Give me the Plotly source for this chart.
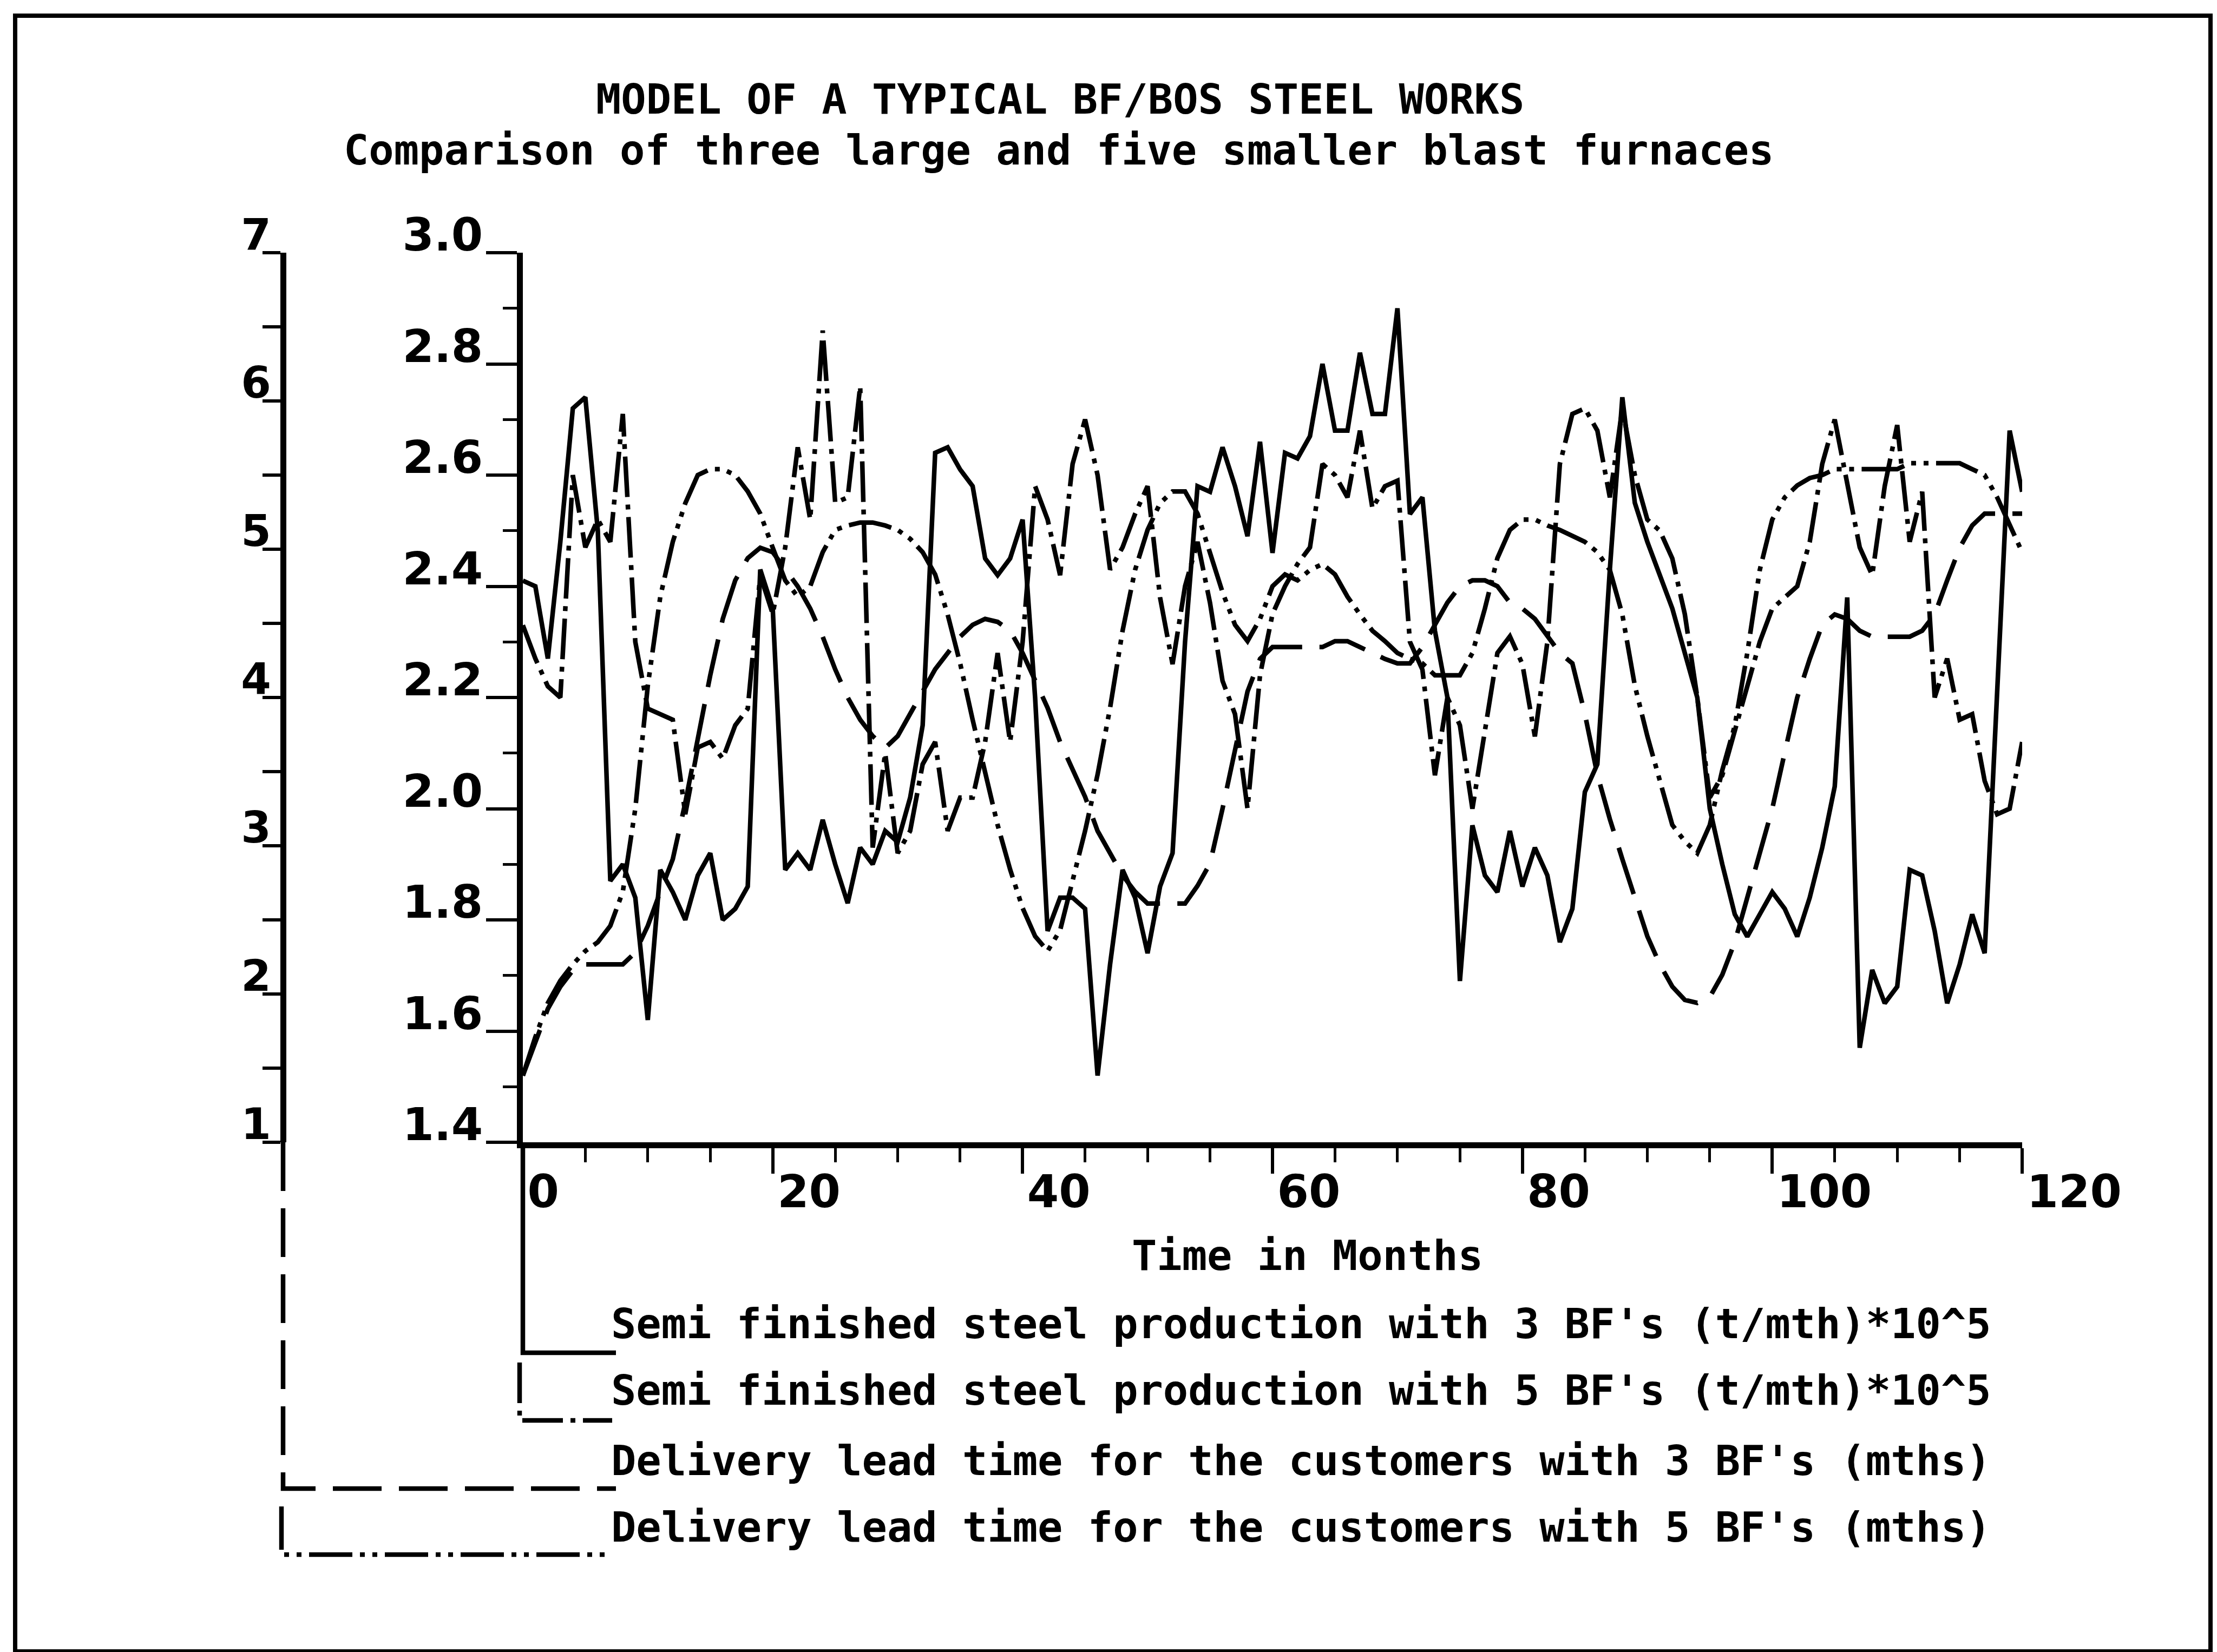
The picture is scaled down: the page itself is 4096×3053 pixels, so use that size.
import plotly.graph_objects as go

# ---------------- data ----------------
months = list(range(121))

# Semi finished steel production (t/mth)*10^5  -> right scale 1.4 .. 3.0
semi_3bf = [
    2.41, 2.40, 2.27, 2.48, 2.72, 2.74, 2.50, 1.87, 1.90, 1.84,
    1.62, 1.89, 1.85, 1.80, 1.88, 1.92, 1.80, 1.82, 1.86, 2.43,
    2.36, 1.89, 1.92, 1.89, 1.98, 1.90, 1.83, 1.93, 1.90, 1.96,
    1.94, 2.02, 2.15, 2.64, 2.65, 2.61, 2.58, 2.45, 2.42, 2.45,
    2.52, 2.20, 1.78, 1.84, 1.84, 1.82, 1.52, 1.72, 1.89, 1.84,
    1.74, 1.86, 1.92, 2.30, 2.58, 2.57, 2.65, 2.58, 2.49, 2.66,
    2.46, 2.64, 2.63, 2.67, 2.80, 2.68, 2.68, 2.82, 2.71, 2.71,
    2.90, 2.53, 2.56, 2.32, 2.20, 1.69, 1.97, 1.88, 1.85, 1.96,
    1.86, 1.93, 1.88, 1.76, 1.82, 2.03, 2.08, 2.43, 2.74, 2.55,
    2.48, 2.42, 2.36, 2.28, 2.20, 2.00, 1.90, 1.81, 1.77, 1.81,
    1.85, 1.82, 1.77, 1.84, 1.93, 2.04, 2.38, 1.57, 1.71, 1.65,
    1.68, 1.89, 1.88, 1.78, 1.65, 1.72, 1.81, 1.74, 2.20, 2.68,
    2.57]

semi_5bf = [
    2.33, 2.27, 2.22, 2.20, 2.60, 2.47, 2.52, 2.48, 2.71, 2.30,
    2.18, 2.17, 2.16, 1.99, 2.11, 2.12, 2.09, 2.15, 2.18, 2.42,
    2.35, 2.47, 2.65, 2.52, 2.86, 2.55, 2.56, 2.76, 1.93, 2.10,
    1.92, 1.96, 2.08, 2.12, 1.96, 2.02, 2.02, 2.12, 2.28, 2.12,
    2.30, 2.58, 2.52, 2.42, 2.62, 2.70, 2.60, 2.43, 2.47, 2.53,
    2.58, 2.38, 2.26, 2.40, 2.48, 2.37, 2.23, 2.17, 2.00, 2.24,
    2.35, 2.40, 2.44, 2.47, 2.62, 2.60, 2.56, 2.68, 2.54, 2.58,
    2.59, 2.30, 2.25, 2.06, 2.20, 2.15, 2.00, 2.14, 2.28, 2.31,
    2.26, 2.13, 2.30, 2.62, 2.71, 2.72, 2.68, 2.56, 2.72, 2.60,
    2.52, 2.50, 2.45, 2.35, 2.20, 2.02, 2.06, 2.14, 2.22, 2.30,
    2.36, 2.38, 2.40, 2.48, 2.62, 2.70, 2.58, 2.47, 2.42, 2.58,
    2.69, 2.48, 2.57, 2.20, 2.27, 2.16, 2.17, 2.05, 1.99, 2.00,
    2.12]

# Delivery lead time for the customers (mths) -> left scale 1 .. 7
lead_3bf = [
    1.45, 1.68, 1.90, 2.05, 2.16, 2.20, 2.20, 2.20, 2.20, 2.28,
    2.46, 2.69, 2.91, 3.29, 3.74, 4.15, 4.53, 4.79, 4.94, 5.01,
    4.98, 4.86, 4.75, 4.60, 4.41, 4.19, 4.00, 3.85, 3.74, 3.66,
    3.74, 3.89, 4.04, 4.19, 4.30, 4.41, 4.49, 4.53, 4.51, 4.45,
    4.30, 4.11, 3.93, 3.70, 3.51, 3.33, 3.10, 2.95, 2.80, 2.69,
    2.61, 2.61, 2.61, 2.61, 2.73, 2.88, 3.25, 3.63, 4.04, 4.26,
    4.34, 4.34, 4.34, 4.34, 4.34, 4.38, 4.38, 4.34, 4.30, 4.26,
    4.23, 4.23, 4.34, 4.49, 4.64, 4.75, 4.79, 4.79, 4.75, 4.64,
    4.60, 4.53, 4.41, 4.30, 4.23, 3.89, 3.48, 3.18, 2.91, 2.65,
    2.39, 2.20, 2.05, 1.96, 1.94, 1.98, 2.13, 2.35, 2.65, 2.95,
    3.25, 3.63, 4.00, 4.26, 4.49, 4.56, 4.53, 4.45, 4.41, 4.41,
    4.41, 4.41, 4.45, 4.56, 4.79, 5.01, 5.16, 5.24, 5.24, 5.24,
    5.24]

lead_5bf = [
    1.45, 1.71, 1.94, 2.09, 2.20, 2.29, 2.35, 2.46, 2.69, 3.25,
    4.08, 4.68, 5.05, 5.31, 5.50, 5.54, 5.54, 5.50, 5.39, 5.24,
    5.01, 4.79, 4.68, 4.75, 4.98, 5.13, 5.16, 5.18, 5.18, 5.16,
    5.13, 5.07, 4.98, 4.83, 4.56, 4.23, 3.85, 3.48, 3.14, 2.84,
    2.58, 2.39, 2.29, 2.43, 2.76, 3.10, 3.48, 3.93, 4.45, 4.86,
    5.13, 5.31, 5.39, 5.39, 5.24, 4.98, 4.71, 4.49, 4.38, 4.53,
    4.75, 4.83, 4.79, 4.86, 4.90, 4.83, 4.68, 4.56, 4.45, 4.38,
    4.30, 4.26, 4.23, 4.15, 4.15, 4.15, 4.30, 4.60, 4.94, 5.13,
    5.20, 5.20, 5.16, 5.13, 5.09, 5.05, 4.98, 4.86, 4.56, 4.08,
    3.74, 3.44, 3.14, 3.03, 2.95, 3.14, 3.51, 3.81, 4.30, 4.86,
    5.20, 5.35, 5.43, 5.48, 5.50, 5.54, 5.54, 5.54, 5.54, 5.54,
    5.54, 5.58, 5.58, 5.58, 5.58, 5.58, 5.54, 5.50, 5.35, 5.16,
    4.98]

title_1 = "MODEL OF A TYPICAL BF/BOS STEEL WORKS"
title_2 = "Comparison of three large and five smaller blast furnaces"
x_title = "Time in Months"
legend_labels = [
    "Semi finished steel production with 3 BF's (t/mth)*10^5",
    "Semi finished steel production with 5 BF's (t/mth)*10^5",
    "Delivery lead time for the customers with 3 BF's (mths)",
    "Delivery lead time for the customers with 5 BF's (mths)",
]

# ---------------- geometry (pixels in the 4096x3053 page) ----------------
W, H = 4096, 3053
ML, MR, MT, MB = 400, 368, 459, 950
PW, PH = W - ML - MR, H - MT - MB


def px(x):
    return (x - ML) / PW


def py(y):
    return (H - MB - y) / PH


X_AXIS0 = 958      # pixel of month 0 / right value axis
LEFT_AX = 515      # pixel of the lead-time axis
PLOT_BOTTOM = H - MB

SOLID = "solid"
DASH_S5 = "75px,14px,9px,14px"
DASH_L3 = "90px,32px"
DASH_L5 = "80px,14px,9px,14px,9px,14px"
LW = 8.5

MONO = dict(family="DejaVu Sans Mono", size=77, color="black", weight="bold")
NUM = dict(family="DejaVu Sans", size=84, color="black", weight="bold")

fig = go.Figure()
fig.add_trace(go.Scatter(x=months, y=semi_3bf, mode="lines", name=legend_labels[0],
                         line=dict(color="black", width=LW, dash=SOLID), yaxis="y"))
fig.add_trace(go.Scatter(x=months, y=semi_5bf, mode="lines", name=legend_labels[1],
                         line=dict(color="black", width=LW, dash=DASH_S5), yaxis="y"))
fig.add_trace(go.Scatter(x=months, y=lead_3bf, mode="lines", name=legend_labels[2],
                         line=dict(color="black", width=LW, dash=DASH_L3), yaxis="y2"))
fig.add_trace(go.Scatter(x=months, y=lead_5bf, mode="lines", name=legend_labels[3],
                         line=dict(color="black", width=LW, dash=DASH_L5), yaxis="y2"))

shapes = []
# outer frame
shapes.append(dict(type="rect", xref="paper", yref="paper",
                   x0=px(20), x1=px(4076), y0=py(3044), y1=py(21),
                   line=dict(color="black", width=8)))


def bracket(xv, y_top, y_bot, x_end, dash):
    path = f"M {px(xv)},{py(y_top)} L {px(xv)},{py(y_bot)} L {px(x_end)},{py(y_bot)}"
    return dict(type="path", xref="paper", yref="paper", path=path,
                line=dict(color="black", width=LW, dash=dash))


shapes.append(bracket(X_AXIS0, PLOT_BOTTOM, 2492, 1130, SOLID))
shapes.append(bracket(952, 2510, 2617, 1123, DASH_S5))
shapes.append(bracket(LEFT_AX, PLOT_BOTTOM, 2743, 1130, DASH_L3))
shapes.append(bracket(512, 2776, 2865, 1123, DASH_L5))

annotations = [
    dict(text=title_1, x=px(1950), y=py(175), xref="paper", yref="paper",
         showarrow=False, xanchor="center", yanchor="middle", font=MONO),
    dict(text=title_2, x=px(1948), y=py(269), xref="paper", yref="paper",
         showarrow=False, xanchor="center", yanchor="middle", font=MONO),
    dict(text=x_title, x=px(2407), y=py(2312), xref="paper", yref="paper",
         showarrow=False, xanchor="center", yanchor="middle", font=MONO),
]
for lbl, yc in zip(legend_labels, [2438, 2561, 2691, 2814]):
    annotations.append(dict(text=lbl, x=px(1119), y=py(yc), xref="paper", yref="paper",
                            showarrow=False, xanchor="left", yanchor="middle", font=MONO))

left_vals = [1 + 0.5 * i for i in range(13)]
left_text = [str(int(v)) if v == int(v) else "" for v in left_vals]

fig.update_layout(
    width=W, height=H,
    margin=dict(l=ML, r=MR, t=MT, b=MB, pad=0),
    paper_bgcolor="white", plot_bgcolor="white",
    showlegend=False,
    shapes=shapes,
    annotations=annotations,
    xaxis=dict(domain=[px(X_AXIS0), 1], range=[0, 120], tickmode="linear", tick0=0, dtick=20,
               ticks="outside", ticklen=47, tickwidth=6, tickcolor="black",
               showline=True, linewidth=11, linecolor="black",
               showgrid=False, zeroline=False, tickfont=NUM,
               ticklabelposition="outside right", ticklabelstandoff=8,
               minor=dict(dtick=5, tick0=0, ticks="outside", ticklen=26, tickwidth=5,
                          tickcolor="black", showgrid=False)),
    yaxis=dict(range=[1.4, 3.0], tickmode="linear", tick0=1.4, dtick=0.2, tickformat=".1f",
               ticks="outside", ticklen=57, tickwidth=6, tickcolor="black",
               showline=True, linewidth=11, linecolor="black",
               showgrid=False, zeroline=False, tickfont=NUM,
               ticklabelposition="outside", ticklabelshift=-33, ticklabelstandoff=-11,
               minor=dict(dtick=0.1, tick0=1.4, ticks="outside", ticklen=26, tickwidth=5,
                          tickcolor="black", showgrid=False)),
    yaxis2=dict(range=[1, 7], overlaying="y", anchor="free", position=px(LEFT_AX), side="left",
                tickmode="array", tickvals=left_vals, ticktext=left_text,
                ticks="outside", ticklen=33, tickwidth=6, tickcolor="black",
                showline=True, linewidth=11, linecolor="black",
                showgrid=False, zeroline=False,
                tickfont=dict(family="DejaVu Sans", size=80, color="black", weight="bold"),
                ticklabelposition="outside", ticklabelshift=-34, ticklabelstandoff=-32),
)

fig.write_html("out.html")
